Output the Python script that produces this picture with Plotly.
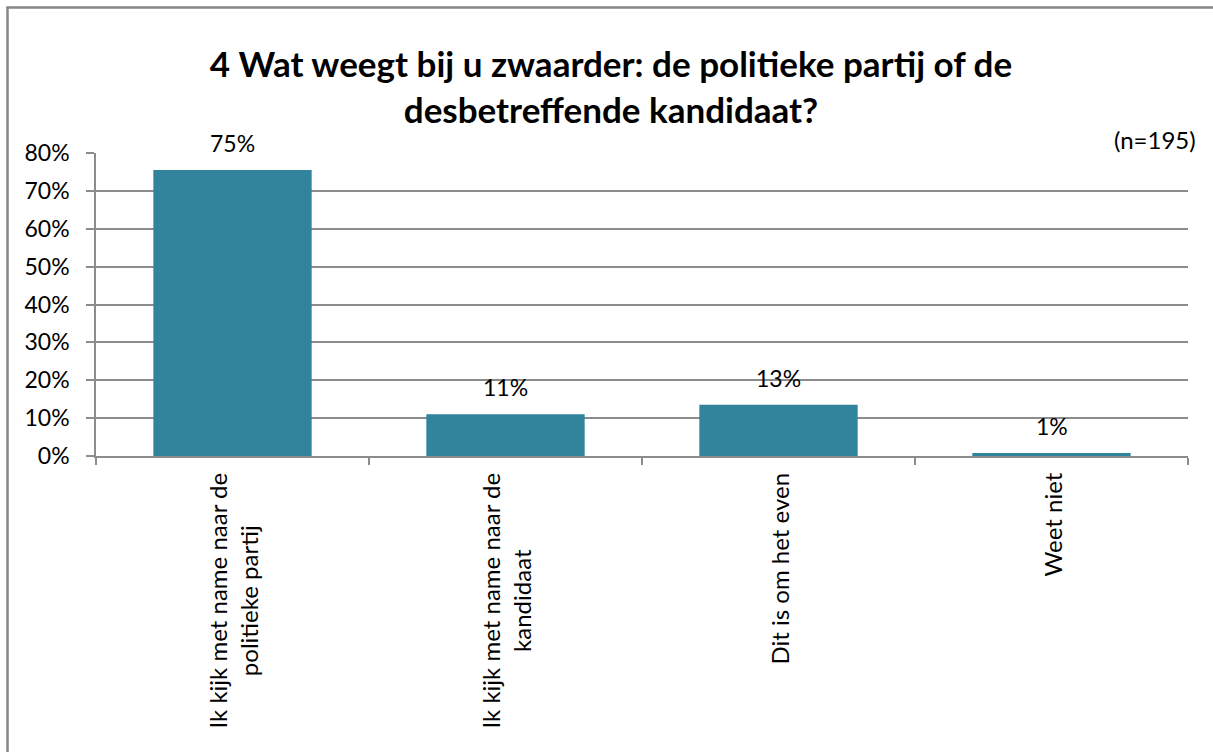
import plotly.graph_objects as go

categories = [
    "Ik kijk met name naar de<br>politieke partij",
    "Ik kijk met name naar de<br>kandidaat",
    "Dit is om het even",
    "Weet niet",
]
values = [0.755, 0.110, 0.135, 0.008]
value_labels = ["75%", "11%", "13%", "1%"]
y_ticks = [0, 0.1, 0.2, 0.3, 0.4, 0.5, 0.6, 0.7, 0.8]
y_tick_labels = ["0%", "10%", "20%", "30%", "40%", "50%", "60%", "70%", "80%"]
title_text = "4 Wat weegt bij u zwaarder: de politieke partij of de<br>desbetreffende kandidaat?"
n_text = "(n=195)"

W, H = 1213, 752
L, R, T, B = 96, 25, 153, 296
pw, ph = W - L - R, H - T - B

FONT = "Lato"
GRID = "#8c8c8c"
BAR = "#31849b"

fig = go.Figure()
fig.add_trace(go.Bar(
    x=categories, y=values,
    marker=dict(color=BAR, line=dict(width=0)),
    width=0.58,
    hoverinfo="skip",
))

annotations = []
for c, v, t in zip(categories, values, value_labels):
    annotations.append(dict(
        x=c, y=v, xref="x", yref="y", text=t, showarrow=False,
        yanchor="bottom", yshift=11, font=dict(family=FONT, size=23, color="#000"),
    ))
    annotations.append(dict(
        x=c, y=0, xref="x", yref="paper", text=c, showarrow=False,
        textangle=-90, yanchor="top", xanchor="center", yshift=-15, align="center",
        font=dict(family=FONT, size=24, color="#000"),
    ))

annotations.append(dict(
    x=(1198 - L) / pw, y=(H - B - 139) / ph, xref="paper", yref="paper",
    text=n_text, showarrow=False, xanchor="right", yanchor="middle",
    font=dict(family=FONT, size=24, color="#000"),
))

bx0 = (7.5 - L) / pw
bx1 = (W + 5 - L) / pw
by0 = (H - B - (H + 5)) / ph
by1 = (H - B - 7.5) / ph
shapes = [dict(
    type="path", xref="paper", yref="paper",
    path=f"M {bx0},{by0} L {bx0},{by1} L {bx1},{by1}",
    line=dict(color="#878787", width=2.5), layer="below",
)]

fig.update_layout(
    width=W, height=H,
    margin=dict(l=L, r=R, t=T, b=B, autoexpand=False),
    paper_bgcolor="white", plot_bgcolor="white",
    showlegend=False,
    title=dict(
        text="<b>" + title_text + "</b>", x=611 / W, xref="container", xanchor="center",
        y=1 - 77 / H, yanchor="middle", yref="container",
        font=dict(family=FONT, size=35, color="#000"),
    ),
    annotations=annotations,
    shapes=shapes,
    bargap=0.42,
)
fig.update_xaxes(
    showticklabels=False, showgrid=False,
    showline=True, linecolor=GRID, linewidth=1.5,
    ticks="outside", tickson="boundaries", ticklen=7, tickcolor=GRID, tickwidth=1.5,
)
fig.update_yaxes(
    range=[0, 0.8], tickvals=y_ticks, ticktext=y_tick_labels,
    showgrid=True, gridcolor=GRID, gridwidth=1.5,
    showline=True, linecolor=GRID, linewidth=1.5,
    ticks="outside", ticklen=8, tickcolor=GRID, tickwidth=1.5,
    ticklabelstandoff=12,
    tickfont=dict(family=FONT, size=23, color="#000"),
    zeroline=False,
)

fig.write_html(
    "out.html",
    config={"displayModeBar": False},
    post_script="document.body.style.margin='0';document.body.style.overflow='hidden';",
)
